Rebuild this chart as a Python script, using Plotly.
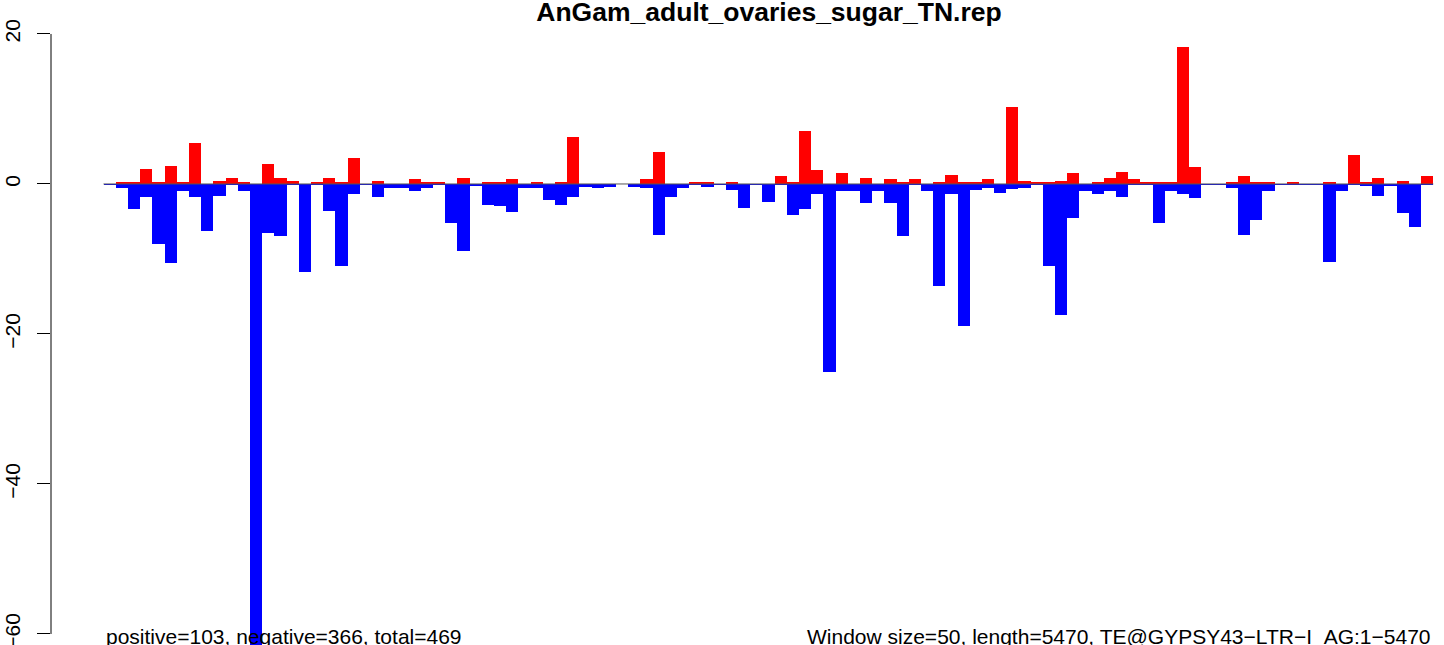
import plotly.graph_objects as go

# ---- data ----
window_size = 50
seq_length = 5470
title_text = "AnGam_adult_ovaries_sugar_TN.rep"

positive = [
    0.0, 0.2, 0.3, 2.0, 0.2, 2.4, 0.3, 5.4, 0.0, 0.4,
    0.8, 0.3, 0.0, 2.7, 0.8, 0.4, 0.0, 0.2, 0.8, 0.2,
    3.5, 0.0, 0.45, 0.0, 0.0, 0.6, 0.3, 0.2, 0.0, 0.85,
    0.0, 0.2, 0.3, 0.7, 0.0, 0.2, 0.0, 0.3, 6.3, 0.0,
    0.0, 0.0, 0.0, 0.0, 0.6, 4.2, 0.0, 0.0, 0.2, 0.2,
    0.0, 0.2, 0.0, 0.0, 0.0, 1.0, 0.2, 7.0, 1.8, 0.0,
    1.4, 0.0, 0.85, 0.0, 0.6, 0.2, 0.6, 0.0, 0.2, 1.25,
    0.2, 0.3, 0.6, 0.0, 10.3, 0.45, 0.2, 0.2, 0.45, 1.4,
    0.0, 0.2, 0.85, 1.65, 0.7, 0.2, 0.3, 0.2, 18.2, 2.2,
    0.0, 0.0, 0.3, 1.1, 0.2, 0.3, 0.0, 0.2, 0.0, 0.0,
    0.2, 0.0, 3.9, 0.2, 0.85, 0.0, 0.45, 0.0, 1.1,
]

negative = [
    -0.2, -0.5, -3.3, -1.7, -8.0, -10.6, -0.9, -1.8, -6.3, -1.6,
    -0.1, -0.9, -63.0, -6.5, -6.9, -0.1, -11.8, -0.1, -3.6, -10.9,
    -1.4, -0.1, -1.7, -0.5, -0.5, -0.9, -0.6, -0.2, -5.2, -9.0,
    -0.3, -2.75, -2.9, -3.7, -0.6, -0.5, -2.2, -2.75, -1.7, -0.35,
    -0.6, -0.35, 0.0, -0.35, -0.5, -6.8, -1.7, -0.5, -0.2, -0.35,
    -0.1, -0.75, -3.15, -0.2, -2.35, -0.1, -4.2, -3.4, -1.3, -25.1,
    -1.0, -1.0, -2.5, -0.9, -2.6, -7.0, -0.2, -1.0, -13.6, -1.4,
    -19.0, -0.85, -0.5, -1.25, -0.7, -0.6, -0.2, -10.9, -17.5, -4.5,
    -0.9, -1.4, -1.0, -1.8, -0.1, -0.1, -5.25, -1.0, -1.4, -1.9,
    -0.2, -0.1, -0.6, -6.85, -4.85, -1.0, -0.1, -0.2, -0.2, -0.2,
    -10.45, -1.0, -0.2, -0.3, -1.65, -0.3, -3.9, -5.8, -0.2,
]

y_tick_values = [-60, -40, -20, 0, 20]
y_tick_labels = ["\u221260", "\u221240", "\u221220", "0", "20"]

left_note = "positive=103, negative=366, total=469"
right_note = "Window size=50, length=5470, TE@GYPSY43\u2212LTR\u2212I\u00a0\u00a0AG:1\u22125470"

# ---- derived ----
n = len(positive)
x_centers = [window_size * k + window_size / 2 for k in range(n)]
x_end = window_size * n

FONT = "Liberation Sans, Arial, Helvetica, sans-serif"

fig = go.Figure()

# zero line under the bars
fig.add_trace(go.Scatter(
    x=[0, x_end], y=[0, 0], mode="lines",
    line=dict(color="#555555", width=1), hoverinfo="skip", showlegend=False,
))

fig.add_trace(go.Bar(
    x=x_centers, y=positive, width=window_size,
    marker=dict(color="#FF0000", line=dict(width=0)), showlegend=False,
))
fig.add_trace(go.Bar(
    x=x_centers, y=negative, width=window_size,
    marker=dict(color="#0000FF", line=dict(width=0)), showlegend=False,
))

# axis line from first to last tick (R style)
fig.add_shape(type="line", xref="paper", yref="y",
              x0=0, x1=0, y0=min(y_tick_values), y1=max(y_tick_values),
              line=dict(color="black", width=1))

fig.add_annotation(text=left_note, xref="x", yref="y", x=0, y=-60.4,
                   xanchor="left", yanchor="middle", showarrow=False,
                   font=dict(family=FONT, size=21, color="black"))
fig.add_annotation(text=right_note, xref="x", yref="y", x=x_end, y=-60.4,
                   xanchor="right", yanchor="middle", showarrow=False,
                   font=dict(family=FONT, size=21, color="black"))

fig.update_layout(
    width=1444, height=645,
    margin=dict(l=51, r=0, t=0, b=0, autoexpand=False),
    paper_bgcolor="white", plot_bgcolor="white",
    barmode="overlay", bargap=0,
    title=dict(text="<b>" + title_text + "</b>", xref="container", yref="container",
               x=769 / 1444, y=1 - 12 / 645, xanchor="center", yanchor="middle",
               automargin=False,
               font=dict(family=FONT, size=26.5, color="black")),
    xaxis=dict(visible=False, range=[-215.2, 5493.9], showgrid=False, zeroline=False,
               automargin=False),
    yaxis=dict(range=[-61.47, 24.53], tickvals=y_tick_values, ticktext=y_tick_labels,
               tickangle=-90, ticks="outside", ticklen=13, tickcolor="black", tickwidth=1,
               showline=False, showgrid=False, zeroline=False, automargin=False,
               ticklabelstandoff=9, ticklabeloverflow="allow",
               tickfont=dict(family=FONT, size=21, color="black")),
    font=dict(family=FONT),
)

fig.write_html(
    "out.html",
    config={"displayModeBar": False, "staticPlot": True},
    post_script="document.body.style.margin='0';document.body.style.overflow='hidden';",
)
